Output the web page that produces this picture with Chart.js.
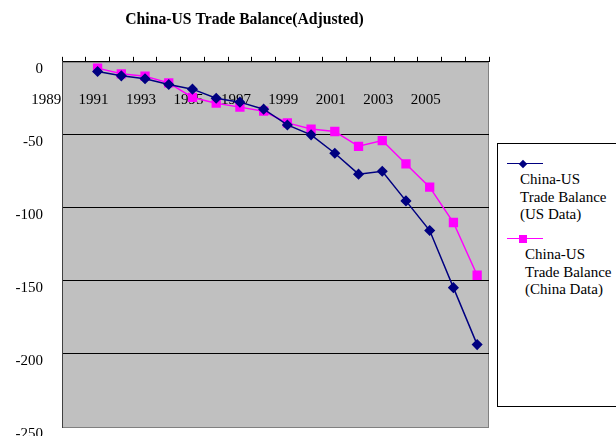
<!DOCTYPE html>
<html>
<head>
<meta charset="utf-8">
<title>China-US Trade Balance</title>
<script src="https://cdn.jsdelivr.net/npm/chart.js@4.4.1/dist/chart.umd.min.js"></script>
<style>
  html, body { margin: 0; padding: 0; background: #fff; }
  #wrap { position: relative; width: 616px; height: 436px; overflow: hidden; }
  #legend {
    position: absolute; left: 497px; top: 143px; width: 132px; height: 264px;
    border: 1px solid #000; box-sizing: border-box; background: #fff;
    font-family: 'Liberation Serif', 'Times New Roman', serif; font-size: 15px;
    line-height: 17.5px; color: #000;
  }
  .swatch { position: absolute; left: 9px; width: 36px; height: 0; border-top: 1.5px solid; }
  .mark { position: absolute; }
  .txt { position: absolute; white-space: nowrap; }
</style>
</head>
<body>
<div id="wrap">
  <canvas id="tradeChart" width="616" height="436"></canvas>
  <div id="legend"></div>
</div>
<script>
  // years that carry data
  const years = [1991, 1992, 1993, 1994, 1995, 1996, 1997, 1998, 1999, 2000, 2001, 2002, 2003, 2004, 2005, 2006, 2007];
  const usData = [-6.6, -9.6, -11.6, -15.5, -18.7, -24.9, -27.6, -32.4, -43.2, -50.0, -62.6, -76.9, -74.9, -95.2, -115.5, -154.6, -193.6];
  const chinaData = [-4.3, -8.2, -9.8, -14.4, -24.4, -28.3, -31.0, -33.8, -41.8, -46.0, -47.7, -57.8, -53.9, -69.9, -85.8, -110.0, -146.1];
  const yearLabels = [1989, 1991, 1993, 1995, 1997, 1999, 2001, 2003, 2005];
  const valueTicks = [0, -50, -100, -150, -200, -250];
  const seriesNames = [
    ['China-US', 'Trade Balance', '(US Data)'],
    ['China-US', 'Trade Balance', '(China Data)']
  ];

  const serif = "'Liberation Serif', 'Times New Roman', serif";
  const US_COLOR = '#000080';
  const CN_COLOR = '#FF00FF';

  function points(vals) {
    return years.map((y, i) => ({ x: y, y: vals[i] }));
  }

  function noPad(s) {
    s.paddingLeft = 0;
    s.paddingRight = 0;
    s.paddingTop = 0;
    s.paddingBottom = 0;
  }

  // category boundaries for the tick marks on the top axis
  const boundaries = [];
  for (let v = 1989.5; v <= 2007.5; v += 1) boundaries.push(v);

  const plotBg = {
    id: 'plotBg',
    beforeDraw(chart) {
      const a = chart.chartArea;
      const ctx = chart.ctx;
      ctx.save();
      ctx.fillStyle = '#C0C0C0';
      ctx.fillRect(a.left, a.top, a.right - a.left, a.bottom - a.top);
      ctx.strokeStyle = '#808080';
      ctx.lineWidth = 1;
      ctx.strokeRect(a.left + 0.5, a.top + 0.5, a.right - a.left - 1, a.bottom - a.top);
      ctx.restore();
    }
  };

  new Chart(document.getElementById('tradeChart'), {
    type: 'line',
    data: {
      datasets: [
        {
          label: seriesNames[0].join(' '),
          data: points(usData),
          borderColor: US_COLOR,
          backgroundColor: US_COLOR,
          borderWidth: 1.5,
          pointStyle: 'rectRot',
          pointRadius: 4.5,
          tension: 0
        },
        {
          label: seriesNames[1].join(' '),
          data: points(chinaData),
          borderColor: CN_COLOR,
          backgroundColor: CN_COLOR,
          borderWidth: 1.5,
          pointStyle: 'rect',
          pointRadius: 5.5,
          tension: 0
        }
      ]
    },
    options: {
      responsive: false,
      animation: false,
      layout: { padding: { left: 0, right: 127, top: 0, bottom: 9 } },
      plugins: {
        legend: { display: false },
        tooltip: { enabled: false },
        title: {
          display: true,
          text: 'China-US Trade Balance(Adjusted)',
          color: '#000',
          font: { family: serif, size: 15.7, weight: 'bold' },
          padding: { top: 11, bottom: 27 }
        }
      },
      scales: {
        x: {
          type: 'linear',
          position: 'top',
          weight: 0,
          min: 1989.5,
          max: 2007.5,
          afterBuildTicks: (s) => { s.ticks = boundaries.map((v) => ({ value: v })); },
          afterFit: (s) => { s.height = 5; noPad(s); },
          grid: { drawOnChartArea: false, drawTicks: true, tickLength: 5, color: '#000' },
          border: { color: '#000', width: 1 },
          ticks: { display: false }
        },
        xl: {
          type: 'linear',
          position: 'top',
          weight: 1,
          min: 1989.5,
          max: 2007.5,
          afterBuildTicks: (s) => { s.ticks = yearLabels.map((v) => ({ value: v })); },
          afterFit: (s) => { s.height = 0; noPad(s); },
          grid: { display: false },
          border: { display: false },
          ticks: {
            mirror: true,
            autoSkip: false,
            maxRotation: 0,
            padding: 34,
            labelOffset: -4,
            color: '#000',
            font: { family: serif, size: 15 },
            callback: (v) => String(v)
          }
        },
        y: {
          min: -250,
          max: 0,
          afterBuildTicks: (s) => { s.ticks = valueTicks.map((v) => ({ value: v })); },
          afterFit: (s) => { s.width = 62; noPad(s); },
          grid: {
            drawTicks: false,
            color: (c) => (c.tick && c.tick.value === -250 ? '#808080' : '#000')
          },
          border: { color: '#404040', width: 1 },
          ticks: {
            padding: 19,
            labelOffset: 7,
            color: '#000',
            font: { family: serif, size: 15 }
          }
        }
      }
    },
    plugins: [plotBg]
  });

  // legend box with multi-line labels
  const legend = document.getElementById('legend');
  const legendRows = [
    { color: US_COLOR, diamond: true, lineY: 20, textX: 22, textY: 27 },
    { color: CN_COLOR, diamond: false, lineY: 95, textX: 27, textY: 102 }
  ];
  legendRows.forEach((row, i) => {
    const sw = document.createElement('div');
    sw.className = 'swatch';
    sw.style.top = (row.lineY - 1) + 'px';
    sw.style.borderTopColor = row.color;
    legend.appendChild(sw);

    const mk = document.createElement('div');
    mk.className = 'mark';
    mk.style.background = row.color;
    if (row.diamond) {
      mk.style.width = '6px'; mk.style.height = '6px';
      mk.style.left = '22px'; mk.style.top = (row.lineY - 3.5) + 'px';
      mk.style.transform = 'rotate(45deg)';
    } else {
      mk.style.width = '8px'; mk.style.height = '8px';
      mk.style.left = '21px'; mk.style.top = (row.lineY - 4.5) + 'px';
    }
    legend.appendChild(mk);

    const tx = document.createElement('div');
    tx.className = 'txt';
    tx.style.left = row.textX + 'px';
    tx.style.top = row.textY + 'px';
    tx.innerHTML = seriesNames[i].join('<br>');
    legend.appendChild(tx);
  });
</script>
</body>
</html>
